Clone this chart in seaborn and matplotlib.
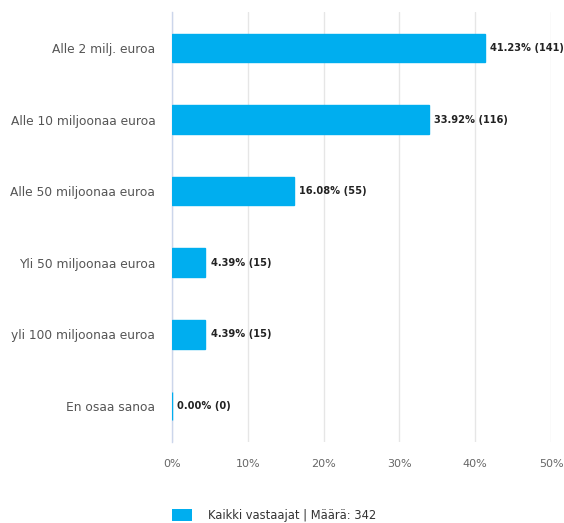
import matplotlib
matplotlib.use("Agg")
import matplotlib.pyplot as plt
import pandas as pd
import seaborn as sns
from matplotlib.patches import Patch

categories = [
    "Alle 2 milj. euroa",
    "Alle 10 miljoonaa euroa",
    "Alle 50 miljoonaa euroa",
    "Yli 50 miljoonaa euroa",
    "yli 100 miljoonaa euroa",
    "En osaa sanoa",
]
percents = [41.23, 33.92, 16.08, 4.39, 4.39, 0.00]
counts = [141, 116, 55, 15, 15, 0]
x_ticks = [0, 10, 20, 30, 40, 50]
legend_label = "Kaikki vastaajat | Määrä: 342"

bar_color = "#00aeef"

sns.set_style("white")
plt.rcParams["font.family"] = ["DejaVu Sans"]

df = pd.DataFrame({"category": categories, "percent": percents, "count": counts})

fig = plt.figure(figsize=(5.64, 5.23), dpi=100)
ax = fig.add_axes([0.305, 0.155, 0.672, 0.822])

# edge in the bar colour so the 0 % bar still shows as a thin line
sns.barplot(data=df, x="percent", y="category", color=bar_color, width=0.40,
            saturation=1, ax=ax, zorder=3, edgecolor=bar_color, linewidth=1)

ax.set_xlim(0, 50)
ax.set_xticks(x_ticks)
ax.set_xticklabels([f"{t}%" for t in x_ticks], fontsize=8, color="#666666")
ax.tick_params(axis="x", length=0, pad=12)
ax.tick_params(axis="y", length=0, pad=12, labelsize=8.8, labelcolor="#555555")
ax.set_xlabel("")
ax.set_ylabel("")
ax.grid(axis="x", color="#e6e6e6", linewidth=1, zorder=0)
for s in ["top", "right", "bottom"]:
    ax.spines[s].set_visible(False)
ax.spines["left"].set_color("#ccd6eb")
ax.spines["left"].set_linewidth(1)

for i, (p, c) in enumerate(zip(percents, counts)):
    ax.text(p + 0.7, i, f"{p:.2f}% ({c})", va="center", ha="left",
            fontsize=7.1, color="#222222", fontweight="semibold")

handles = [Patch(facecolor=bar_color, edgecolor="none")]
fig.legend(handles, [legend_label], loc="center left", bbox_to_anchor=(0.287, 0.015),
           frameon=False, fontsize=8.3, handlelength=1.7, handleheight=1.3,
           handletextpad=1.4, labelcolor="#333333")

fig.savefig("out.png", dpi=100)
plt.close(fig)
